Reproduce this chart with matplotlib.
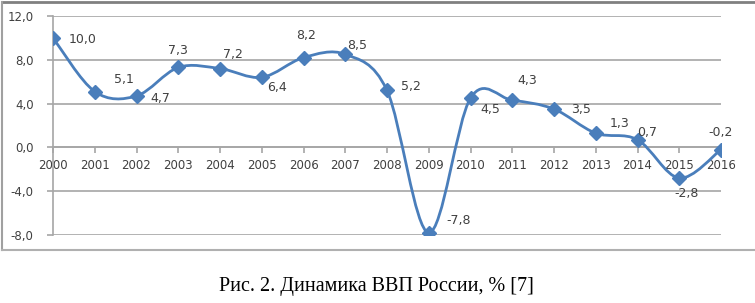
import numpy as np
import matplotlib
matplotlib.use("Agg")
import matplotlib.pyplot as plt
from matplotlib.path import Path
from matplotlib.patches import PathPatch
from matplotlib.lines import Line2D

years = [2000, 2001, 2002, 2003, 2004, 2005, 2006, 2007, 2008,
         2009, 2010, 2011, 2012, 2013, 2014, 2015, 2016]
gdp = [10.0, 5.1, 4.7, 7.3, 7.2, 6.4, 8.2, 8.5, 5.2,
       -7.8, 4.5, 4.3, 3.5, 1.3, 0.7, -2.8, -0.2]
yticks = [-8, -4, 0, 4, 8, 12]
caption = "Рис. 2. Динамика ВВП России, % [7]"

# label offsets in points (dx, dy) and alignment
lab_pos = [(11, -1, 'left'), (14, 9, 'left'), (10, -2, 'left'), (0, 12, 'center'),
           (2, 10, 'left'), (4, -7, 'left'), (2, 16, 'center'), (1, 6, 'left'),
           (10, 3, 'left'), (13, 9, 'left'), (7, -8, 'left'), (4, 14, 'left'),
           (12, 0, 'left'), (10, 7, 'left'), (0, 5, 'left'), (5, -11, 'center'),
           (0, 12, 'center')]

blue = '#4A7EBB'
grid_c = '#A6A6A6'
txt_c = '#404040'

fig = plt.figure(figsize=(7.55, 3.03), dpi=100)
ax = fig.add_axes([53/755, 68/303, 668/755, 219/303])

# Excel-style smoothed line (Catmull-Rom as cubic Bezier)
x = np.array(years, dtype=float)
y = np.array(gdp, dtype=float)
pts = np.column_stack([x, y])
ext = np.vstack([pts[0], pts, pts[-1]])
verts = [tuple(pts[0])]
codes = [Path.MOVETO]
for i in range(len(pts) - 1):
    p0, p1, p2, p3 = ext[i], ext[i + 1], ext[i + 2], ext[i + 3]
    c1 = p1 + (p2 - p0) / 6
    c2 = p2 - (p3 - p1) / 6
    verts += [tuple(c1), tuple(c2), tuple(p2)]
    codes += [Path.CURVE4] * 3
ax.add_patch(PathPatch(Path(verts, codes), fill=False, edgecolor=blue, lw=2.0,
                       capstyle='round', joinstyle='round', zorder=3))
ax.plot(x, y, linestyle='none', marker='D', ms=7, color=blue, zorder=4)

for xi, yi, (dx, dy, ha) in zip(x, y, lab_pos):
    ax.annotate(f"{yi:.1f}".replace('.', ','), (xi, yi), xytext=(dx, dy),
                textcoords='offset points', ha=ha, va='center',
                fontsize=9, color=txt_c, zorder=5)

ax.set_xlim(2000, 2016)
ax.set_ylim(-8, 12)
ax.set_yticks(yticks)
ax.set_yticklabels([f"{v:.1f}".replace('.', ',') for v in yticks])
ax.set_xticks(years)
ax.set_xticklabels([str(v) for v in years])
ax.yaxis.grid(True, color=grid_c, lw=1.2)
ax.set_axisbelow(True)

for s in ['top', 'right']:
    ax.spines[s].set_visible(False)
ax.spines['left'].set_color(grid_c)
ax.spines['left'].set_linewidth(1.2)
ax.spines['bottom'].set_position(('data', 0))
ax.spines['bottom'].set_color(grid_c)
ax.spines['bottom'].set_linewidth(1.2)
ax.tick_params(axis='both', colors=grid_c, length=4, width=1.2, direction='out')
ax.tick_params(axis='y', pad=10, labelsize=8.5, labelcolor=txt_c)
ax.tick_params(axis='x', pad=4, labelsize=8.5, labelcolor=txt_c)
ax.patch.set_alpha(0)

# chart frame
fig.add_artist(Line2D([2/755, 1], [1 - 2/303, 1 - 2/303], color='#808080', lw=2))
fig.add_artist(Line2D([2/755, 2/755], [1 - 2/303, 1 - 250/303], color='#A0A0A0', lw=1.5))
fig.add_artist(Line2D([2/755, 1], [1 - 250/303, 1 - 250/303], color='#B0B0B0', lw=1.5))

fig.text(376/755, 1 - 287/303, caption, ha='center', va='center',
         fontsize=14.5, family='Liberation Serif', color='black')

fig.savefig('out.png', dpi=100)
